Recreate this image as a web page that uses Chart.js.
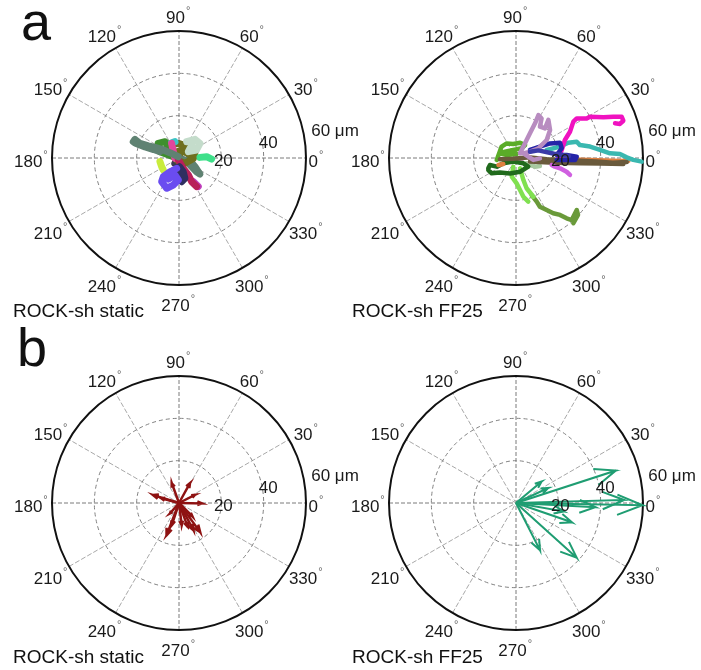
<!DOCTYPE html>
<html lang="en">
<head>
<meta charset="UTF-8">
<title>ROCK-sh static vs FF25</title>
<script src="https://cdn.jsdelivr.net/npm/chart.js@4.4.6/dist/chart.umd.min.js"></script>
<style>
  body { margin: 0; background: #fff; font-family: Arial, "Liberation Sans", sans-serif; }
  #wrap { position: relative; width: 701px; height: 670px; overflow: hidden; }
  canvas { position: absolute; }
  .letter { position: absolute; font-size: 54px; line-height: 1; color: #111; }
  .caption { position: absolute; font-size: 19px; line-height: 1; color: #111; white-space: nowrap; }
</style>
</head>
<body>
<div id="wrap">
  <canvas id="aStatic" width="380" height="335" style="left:0;top:0"></canvas>
  <canvas id="aFF25" width="351" height="335" style="left:350px;top:0"></canvas>
  <canvas id="bStatic" width="380" height="335" style="left:0;top:335px"></canvas>
  <canvas id="bFF25" width="351" height="335" style="left:350px;top:335px"></canvas>
  <div class="letter" style="left:21px;top:-6px">a</div>
  <div class="letter" style="left:17px;top:320px">b</div>
  <div class="caption" style="left:13px;top:301px">ROCK-sh static</div>
  <div class="caption" style="left:352px;top:301px">ROCK-sh FF25</div>
  <div class="caption" style="left:13px;top:647px">ROCK-sh static</div>
  <div class="caption" style="left:352px;top:647px">ROCK-sh FF25</div>
</div>
<script>
// axis values
const rMax = 60;
const ringTicks = [20, 40, 60];
const angleTicks = [0, 30, 60, 90, 120, 150, 180, 210, 240, 270, 300, 330];
const unitLabel = 'μm';

// panel a: cell tracks, [x, y] in μm
const staticTracks = [
  [[-21.6,7.7],[-20.8,8.8],[-18.4,6.9],[-14.5,5.7],[-11.3,5.0],[-8.2,4.1],[-4.3,2.5],[-0.3,0.6]],
  [[-20.5,7.0],[-16.0,5.2],[-12.0,4.0],[-9.0,3.0]],
  [[-1.1,-4.9],[-4.3,-6.5],[-7.4,-8.8],[-8.2,-11.2],[-5.8,-14.3],[-2.7,-12.8],[-0.3,-10.4],[-1.9,-8.0],[-5.0,-10.0],[-3.0,-6.0]],
  [[0.2,-4.1],[2.0,-6.5],[2.8,-9.6],[1.3,-11.2],[0.5,-8.0]],
  [[-0.3,-0.9],[2.0,-4.9],[4.4,-8.0],[6.0,-11.2],[8.3,-13.5]],
  [[6.8,-11.2],[9.1,-13.5]],
  [[-9.0,-1.7],[-8.2,-4.1],[-7.4,-5.7]],
  [[-3.5,6.9],[-2.7,3.0],[-1.9,-0.2]],
  [[-3.5,7.2],[-1.9,7.7]],
  [[3.6,7.7],[7.6,8.8],[9.9,6.9],[8.3,3.8],[4.4,3.0],[6.0,6.1]],
  [[9.9,0.3],[13.1,0.6],[15.4,-0.5]],
  [[-9.8,6.9],[-6.6,7.7],[-4.3,5.4],[-5.8,2.2],[-9.0,3.0],[-2.7,0.6],[-6.0,4.5]],
  [[-4.3,6.1],[-0.3,6.9],[4.4,5.4],[7.6,3.0],[6.8,-0.2],[2.8,-2.5],[-1.1,-0.9],[-2.7,2.2],[1.3,3.8],[5.2,1.4],[3.0,5.5],[0.5,2.0]],
  [[-0.3,0.6],[3.6,-1.7],[6.0,-4.1],[8.3,-6.5],[9.9,-7.6],[7.5,-4.0],[4.5,-0.5]],
  [[-2.0,-2.5],[1.0,-3.5],[-0.5,-6.0]]
];
const staticColors = ['#5f8272','#5f8272','#6a4cf0','#2f2f60','#b8205a','#c040c0','#c9ec3c','#e0469c',
  '#3ac6c6','#c4dccb','#3ee08a','#3d8f2d','#6f6f1f','#5f8272','#3b3b50'];

const ff25Tracks = [
  [[6.6,3.0],[10.6,3.6],[18.0,2.0],[25.0,1.0]],
  [[1.9,2.2],[6.6,11.7],[9.0,16.4],[10.6,20.3],[12.1,18.7],[11.3,14.8],[13.7,14.0],[15.3,18.0],[16.1,13.2],[14.5,8.5],[10.6,4.6],[6.6,3.0],[3.5,2.2],[8.2,-0.9],[11.3,-0.2]],
  [[6.6,3.8],[11.3,5.4],[16.1,6.9],[20.8,7.2],[21.6,4.6],[19.2,1.4],[23.9,1.4],[28.7,0.6],[27.9,-0.9],[19.2,-0.9]],
  [[20.0,-0.2],[21.6,3.8],[23.1,8.5],[25.5,12.4],[27.1,17.2],[28.7,18.7],[33.4,18.7],[34.9,19.5],[41.3,19.2],[46.0,19.5],[49.9,19.5],[50.7,17.6],[49.1,16.1],[46.8,16.4]],
  [[14.5,3.8],[20.8,5.4],[24.7,7.2],[28.7,7.7],[30.2,6.1],[35.0,5.4],[39.7,3.8],[44.4,2.2],[49.1,1.9],[52.3,0.3],[55.4,-0.9],[59.4,-1.7]],
  [[16.9,-3.3],[18.4,-4.1],[20.8,-4.9],[23.9,-6.5],[25.5,-8.0]],
  [[-7.6,-0.6],[-1.3,-0.3],[6.6,0.3],[14.5,-0.6],[22.4,-0.9],[30.2,-1.3],[38.0,-1.7],[45.7,-2.2],[52.3,-1.9]],
  [[6.6,-1.7],[18.0,-2.2],[30.2,-2.5],[40.0,-2.6],[50.7,-2.8]],
  [[22.4,-0.6],[35.0,-1.0],[49.1,-1.4],[53.1,-1.3]],
  [[-8.3,-3.3],[-6.0,-2.8]],
  [[-9.1,-0.9],[-6.8,5.4],[-4.4,6.9],[-1.3,6.6],[1.9,7.2],[4.3,6.1],[2.7,4.6],[-1.3,3.8],[-5.2,3.0],[-7.6,2.2],[-4.4,1.4],[0.3,1.9]],
  [[-13.1,-4.9],[-12.3,-3.3],[-9.1,-4.1],[-6.0,-2.5],[-1.3,-1.7],[3.5,-2.5],[5.8,-4.1],[1.9,-6.5],[-2.8,-7.3],[-7.6,-6.9],[-11.5,-7.2],[-13.1,-5.7]],
  [[5.0,-2.5],[9.0,-4.1],[11.3,-3.8]],
  [[-0.5,-0.9],[2.7,-1.7]],
  [[-1.3,-4.1],[-2.0,-8.8],[0.3,-12.0],[1.9,-15.1],[3.5,-18.3],[5.8,-20.6]],
  [[1.9,-4.9],[3.5,-10.4],[5.0,-14.3],[8.2,-18.3]],
  [[7.4,-17.5],[9.8,-20.6],[11.3,-23.0],[14.5,-24.6],[17.6,-26.1],[20.8,-26.9],[23.9,-28.5],[26.3,-29.3],[28.7,-24.6],[29.3,-26.9],[27.1,-30.8]]
];
const ff25Colors = ['#3a3aa8','#b88cc0','#2424a8','#f012c0','#3ab8b0','#d060e0','#6a5a3c','#6a5a3c',
  '#e08040','#e08040','#5aac28','#206a1c','#a8c8a0','#d8a0d0','#80e050','#80e050','#6a9a3a'];

// panel b: net displacement vectors
const staticArrowAngle  = [110, 61, 163, 27, 359, 165, 249, 306, 298, 277, 229, 290, 252, 315];
const staticArrowLength = [10.0, 10.7, 12.8, 8.5, 10.8, 8.6, 16.3, 17.0, 14.6, 10.6, 6.5, 12.0, 11.0, 9.0];
const ff25ArrowAngle  = [18, 40, 25, 359, 1.6, 357, 341, 297, 318, 350];
const ff25ArrowLength = [49.6, 15.8, 16.8, 59.8, 51.1, 37.6, 28.0, 25.1, 38.6, 22.9];

const R_PX = 127;

function trackDatasets(tracks, colors, width) {
  return tracks.map((t, i) => ({
    data: t.map(p => ({ x: p[0], y: p[1] })),
    showLine: true,
    borderColor: colors[i],
    borderWidth: width,
    pointRadius: 0,
    borderJoinStyle: 'round',
    borderCapStyle: 'round',
    clip: false
  }));
}

// compass-style arrow: origin -> tip -> barb -> tip -> barb
function arrowDatasets(angles, lengths, color, width) {
  return angles.map((a, i) => {
    const L = lengths[i];
    const t = a * Math.PI / 180;
    const ux = Math.cos(t), uy = Math.sin(t);
    const px = -uy, py = ux;
    const tip = { x: L * ux, y: L * uy };
    const b1 = { x: 0.8 * L * ux + 0.08 * L * px, y: 0.8 * L * uy + 0.08 * L * py };
    const b2 = { x: 0.8 * L * ux - 0.08 * L * px, y: 0.8 * L * uy - 0.08 * L * py };
    return {
      data: [{ x: 0, y: 0 }, tip, b1, tip, b2],
      showLine: true,
      borderColor: color,
      borderWidth: width,
      pointRadius: 0,
      clip: false
    };
  });
}

const polarGrid = {
  id: 'polarGrid',
  beforeDatasetsDraw(chart) {
    const { ctx, scales: { x, y } } = chart;
    const cx = x.getPixelForValue(0), cy = y.getPixelForValue(0);
    const R = x.getPixelForValue(rMax) - cx;
    ctx.save();
    ctx.lineWidth = 1;
    // spokes
    angleTicks.filter(a => a < 180).forEach(a => {
      const t = a * Math.PI / 180;
      ctx.strokeStyle = (a % 90 === 0) ? '#7a7a7a' : '#a8a8a8';
      ctx.setLineDash(a % 90 === 0 ? [4, 2] : [5, 2]);
      ctx.beginPath();
      ctx.moveTo(cx - R * Math.cos(t), cy + R * Math.sin(t));
      ctx.lineTo(cx + R * Math.cos(t), cy - R * Math.sin(t));
      ctx.stroke();
    });
    // rings
    ctx.strokeStyle = '#808080';
    ctx.setLineDash([4, 3]);
    ringTicks.filter(r => r < rMax).forEach(r => {
      const rp = x.getPixelForValue(r) - cx;
      ctx.beginPath();
      ctx.arc(cx, cy, rp, 0, Math.PI * 2);
      ctx.stroke();
    });
    ctx.setLineDash([]);
    ctx.strokeStyle = '#111';
    ctx.lineWidth = 2;
    ctx.beginPath();
    ctx.arc(cx, cy, R, 0, Math.PI * 2);
    ctx.stroke();
    ctx.restore();
  },
  afterDatasetsDraw(chart) {
    const { ctx, scales: { x, y } } = chart;
    const cx = x.getPixelForValue(0), cy = y.getPixelForValue(0);
    const R = x.getPixelForValue(rMax) - cx;
    ctx.save();
    ctx.textBaseline = 'middle';
    // angle labels with small degree mark
    angleTicks.forEach(a => {
      const t = a * Math.PI / 180;
      const s = String(a);
      ctx.font = '17px Arial, "Liberation Sans", sans-serif';
      const w = ctx.measureText(s).width;
      const degW = 7;
      const rx = (a === 0) ? R * 1.085 : R * 1.16;
      const lx = cx + rx * Math.cos(t);
      const ly = cy - R * 1.135 * Math.sin(t) + 4;
      const left = lx - (w + degW) / 2;
      ctx.textAlign = 'left';
      ctx.fillStyle = '#1a1a1a';
      ctx.fillText(s, left, ly);
      ctx.font = '11px Arial, "Liberation Sans", sans-serif';
      ctx.fillStyle = '#666';
      ctx.fillText('°', left + w + 1, ly - 7);
    });
    // radial labels
    ctx.fillStyle = '#1a1a1a';
    ctx.font = '17px Arial, "Liberation Sans", sans-serif';
    ctx.textAlign = 'center';
    ringTicks.forEach((r, i) => {
      const rp = x.getPixelForValue(r) - cx;
      let s = String(r), dx = 2, dy = 3;
      if (i === 1) { dx = 4.5; dy = -14.5; }
      if (r === rMax) { s = r + ' ' + unitLabel; dx = 29; dy = -27; }
      ctx.fillText(s, cx + rp + dx, cy + dy);
    });
    ctx.restore();
  }
};

function makePanel(id, datasets, pad) {
  new Chart(document.getElementById(id), {
    type: 'scatter',
    data: { datasets: datasets },
    options: {
      responsive: false,
      animation: false,
      events: [],
      layout: { padding: pad },
      plugins: { legend: { display: false }, tooltip: { enabled: false } },
      scales: {
        x: { type: 'linear', min: -rMax, max: rMax, display: false },
        y: { type: 'linear', min: -rMax, max: rMax, display: false }
      }
    },
    plugins: [polarGrid]
  });
}

makePanel('aStatic', trackDatasets(staticTracks, staticColors, 7),
  { left: 179 - R_PX, top: 158 - R_PX, right: 380 - 179 - R_PX, bottom: 335 - 158 - R_PX });
makePanel('aFF25', trackDatasets(ff25Tracks, ff25Colors, 4.5),
  { left: 166 - R_PX, top: 158 - R_PX, right: 351 - 166 - R_PX, bottom: 335 - 158 - R_PX });
makePanel('bStatic', arrowDatasets(staticArrowAngle, staticArrowLength, '#8e1212', 2.5),
  { left: 179 - R_PX, top: 168 - R_PX, right: 380 - 179 - R_PX, bottom: 335 - 168 - R_PX });
makePanel('bFF25', arrowDatasets(ff25ArrowAngle, ff25ArrowLength, '#1f9d72', 2),
  { left: 166 - R_PX, top: 168 - R_PX, right: 351 - 166 - R_PX, bottom: 335 - 168 - R_PX });
</script>
</body>
</html>
